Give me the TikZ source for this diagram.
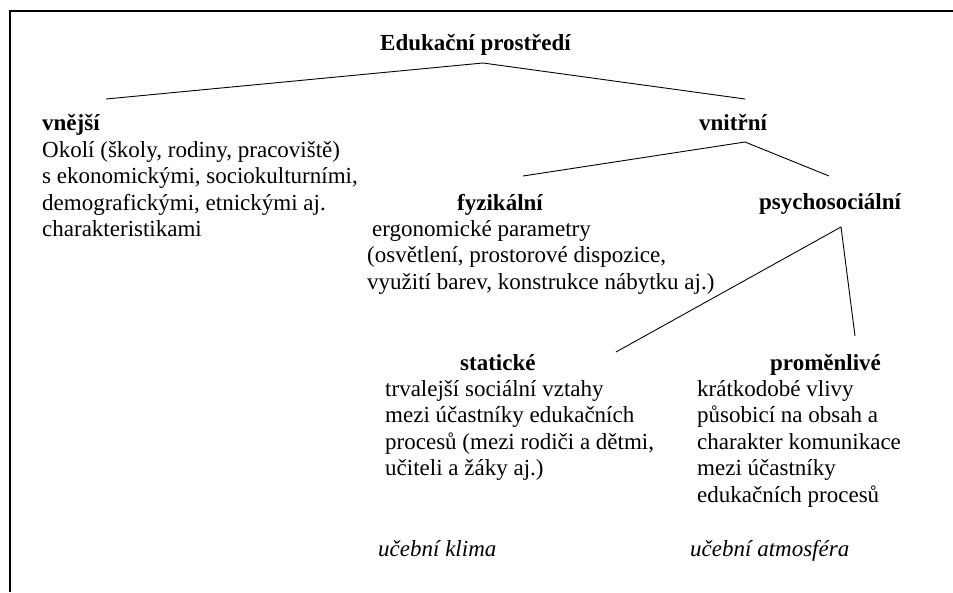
\documentclass[tikz,border=0pt]{standalone}
\usepackage{fontspec}
\setmainfont{Liberation Serif}
\usepackage{xcolor}
\usepackage{tikz}

\newcommand{\sizetext}{\fontsize{23}{26.5}\selectfont}

\begin{document}
\begin{tikzpicture}[x=1pt, y=-1pt,
	head/.style={font=\sizetext\bfseries, anchor=base west, inner sep=0pt},
	body/.style={font=\sizetext, align=left, anchor=base west, inner sep=0pt},
	note/.style={font=\sizetext\itshape, anchor=base west, inner sep=0pt},
	branch/.style={line width=0.9pt}]
	\useasboundingbox (0,0) rectangle (953,592);
	\draw[line width=1.5pt] (953,11) -- (10,11) -- (10,592);
	\node[head] (prostredi) at (380,50) {Edukační prostředí};
	\node[head] (vnejsi) at (42,130) {vnější};
	\node[body] (vnejsitext) at (42,236.5) {Okolí (školy, rodiny, pracoviště)\\ s ekonomickými, sociokulturními,\\ demografickými, etnickými aj.\\ charakteristikami};
	\node[head] (vnitrni) at (699,130) {vnitřní};
	\node[head] (fyzikalni) at (457,210) {fyzikální};
	\node[body] (fyzikalnitext) at (367,289) {\hspace*{5pt}ergonomické parametry\\ (osvětlení, prostorové dispozice,\\ využití barev, konstrukce nábytku aj.)};
	\node[head] (psycho) at (759,209) {psychosociální};
	\node[head] (staticke) at (460,370) {statické};
	\node[body] (staticketext) at (385,475.5) {trvalejší sociální vztahy\\ mezi účastníky edukačních\\ procesů (mezi rodiči a dětmi,\\ učiteli a žáky aj.)};
	\node[head] (promenlive) at (770,370) {proměnlivé};
	\node[body] (promenlivetext) at (697,502) {krátkodobé vlivy\\ působicí na obsah a\\ charakter komunikace\\ mezi účastníky\\ edukačních procesů};
	\node[note] (klima) at (378,556) {učební klima};
	\node[note] (atmosfera) at (690,556) {učební atmosféra};
	\coordinate (rootfork) at (483,63);
	\coordinate (toext) at (106,99);
	\coordinate (toint) at (745,99);
	\coordinate (intfork) at (745,142);
	\coordinate (tofyz) at (523,176);
	\coordinate (topsy) at (829,176);
	\coordinate (psyfork) at (841,227);
	\coordinate (tostat) at (616,352);
	\coordinate (tovar) at (855,336);
	\draw[branch] (toext) -- (rootfork) -- (toint);
	\draw[branch] (tofyz) -- (intfork) -- (topsy);
	\draw[branch] (tostat) -- (psyfork) -- (tovar);
\end{tikzpicture}
\end{document}
